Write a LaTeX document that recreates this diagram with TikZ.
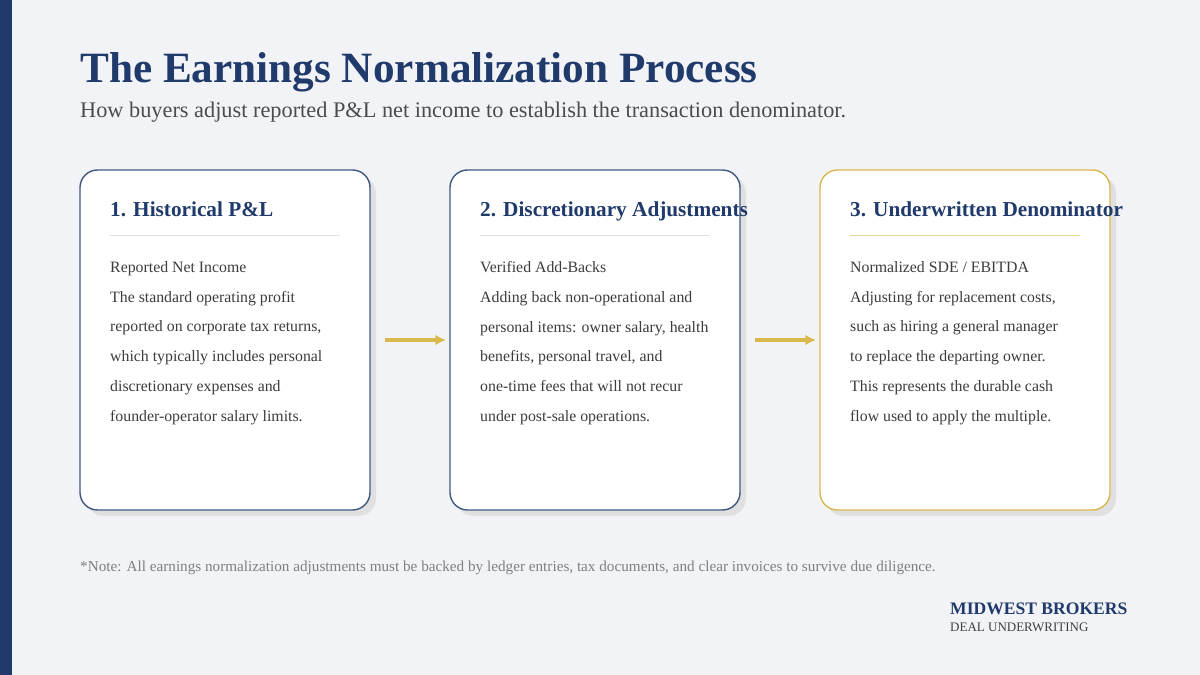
\documentclass[tikz,border=0pt]{standalone}
\usepackage{fontspec}
\setmainfont{Liberation Serif}
\usetikzlibrary{arrows.meta}
\definecolor{navy}{HTML}{1F3A6B}
\definecolor{gold}{HTML}{D9B84E}
\definecolor{bg}{HTML}{F2F3F6}
\definecolor{body}{HTML}{3C3C3C}
\tikzset{
  card/.style={draw=navy!85,line width=0.8pt,fill=white,rounded corners=10pt},
  shadow/.style={fill=black!12,rounded corners=10pt},
  head/.style={anchor=base west,font=\bfseries\fontsize{12.1}{13}\selectfont,text=navy},
  txt/.style={anchor=north west,align=left,text=body,font=\fontsize{9}{17}\selectfont},
}
\begin{document}
\begin{tikzpicture}[x=0.02cm,y=-0.02cm]
\useasboundingbox (0,0) rectangle (1200,675);
\fill[bg] (0,0) rectangle (1200,675);
\fill[navy] (0,0) rectangle (12,675);

\node[anchor=west,font=\bfseries\fontsize{24.6}{27}\selectfont,text=navy] (title) at (74,72) {The Earnings Normalization Process};
\node[anchor=west,font=\fontsize{12.7}{14}\selectfont,text=black!70] (sub) at (74,112) {How buyers adjust reported P\&L net income to establish the transaction denominator.};

% cards
\foreach \x in {80,450,820} \fill[shadow] (\x+6,176) rectangle (\x+296,516);
\draw[card] (80,170) rectangle (370,510);
\draw[card] (450,170) rectangle (740,510);
\draw[card,draw=gold] (820,170) rectangle (1110,510);

\node[head] (h1) at (104,217) {1. Historical P\&L};
\node[head] (h2) at (474,217) {2. Discretionary Adjustments};
\node[head] (h3) at (844,217) {3. Underwritten Denominator};
\draw[black!12] (110,235) -- (340,235);
\draw[black!12] (480,235) -- (710,235);
\draw[gold!60] (850,235) -- (1080,235);

\node[txt] (t1) at (104,255) {Reported Net Income\\The standard operating profit\\reported on corporate tax returns,\\which typically includes personal\\discretionary expenses and\\founder-operator salary limits.};
\node[txt] (t2) at (474,255) {Verified Add-Backs\\Adding back non-operational and\\personal items: owner salary, health\\benefits, personal travel, and\\one-time fees that will not recur\\under post-sale operations.};
\node[txt] (t3) at (844,255) {Normalized SDE / EBITDA\\Adjusting for replacement costs,\\such as hiring a general manager\\to replace the departing owner.\\This represents the durable cash\\flow used to apply the multiple.};

\coordinate (a1) at (385,340); \coordinate (b1) at (446,340);
\coordinate (a2) at (755,340); \coordinate (b2) at (816,340);
\draw[gold,line width=1.8pt,-{Latex[length=6pt,width=6pt]}] (a1) -- (b1);
\draw[gold,line width=1.8pt,-{Latex[length=6pt,width=6pt]}] (a2) -- (b2);

\node[anchor=west,font=\fontsize{8.65}{10}\selectfont,text=black!50] (note) at (74,568) {*Note: All earnings normalization adjustments must be backed by ledger entries, tax documents, and clear invoices to survive due diligence.};
\node[anchor=west,font=\bfseries\fontsize{10}{11}\selectfont,text=navy] (brand) at (944,609) {MIDWEST BROKERS};
\node[anchor=west,font=\fontsize{7.4}{8}\selectfont,text=black!75] (unit) at (944,627) {DEAL UNDERWRITING};
\end{tikzpicture}
\end{document}
